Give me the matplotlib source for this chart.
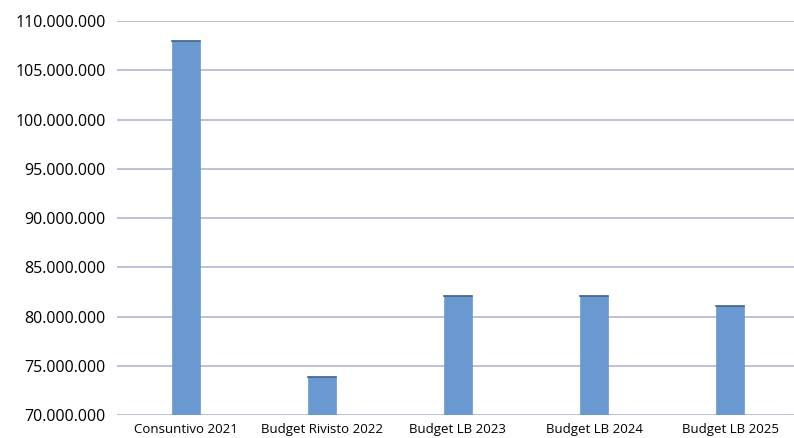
import matplotlib
matplotlib.use("Agg")
import matplotlib.pyplot as plt
from matplotlib.ticker import FuncFormatter

categories = ["Consuntivo 2021", "Budget Rivisto 2022", "Budget LB 2023", "Budget LB 2024", "Budget LB 2025"]
values = [108_000_000, 73_900_000, 82_100_000, 82_100_000, 81_100_000]

plt.rcParams['font.family'] = ['Open Sans', 'DejaVu Sans']

fig = plt.figure(figsize=(7.94, 4.38), dpi=100)
ax = fig.add_axes([0.147, 0.0525, 0.853, 0.8995])

x = list(range(len(categories)))
bw = 0.206
ax.bar(x, values, width=bw, color="#6a98d0", edgecolor="#6a98d0", linewidth=0.5, zorder=3)
for xi, v in zip(x, values):
    ax.plot([xi - bw / 2, xi + bw / 2], [v, v], color="#3f5f8a", linewidth=1.2, zorder=4)

ax.set_ylim(70_000_000, 110_000_000)
ax.set_xlim(-0.507, 4.47)
ax.set_yticks(range(70_000_000, 110_000_001, 5_000_000))
ax.yaxis.set_major_formatter(FuncFormatter(lambda v, p: f"{int(v):,}".replace(",", ".")))
ax.set_xticks(x)
ax.set_xticklabels(categories, fontsize=9.5)
ax.tick_params(axis='y', labelsize=11.5, length=0, pad=8)
ax.tick_params(axis='x', length=0, pad=6)
ax.grid(axis='y', color="#b4b4d0", linewidth=1.2, zorder=0)
for s in ax.spines.values():
    s.set_visible(False)

fig.savefig("out.png", dpi=100)
